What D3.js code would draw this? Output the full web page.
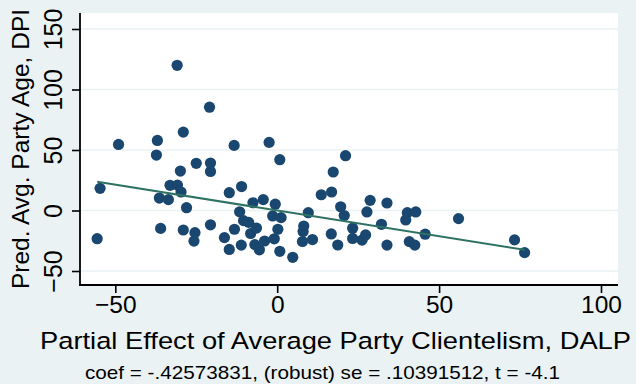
<!DOCTYPE html>
<html>
<head>
<meta charset="utf-8">
<script src="https://cdn.jsdelivr.net/npm/d3@7"></script>
<style>
  body { margin: 0; background: #eaf2f3; }
  text { font-family: "Liberation Sans", Arial, sans-serif; fill: #000; }
</style>
</head>
<body>
<script>
let width = 636;
let height = 384;

// residual scatter (added-variable plot)
var xVals = [-49, -37, -37.3, -30.9, -29, -20.9, -25, -20.6, -20.6, -29.9,
  -13.3, -2.5, 0.8, 21.1, -54.7, -55.6, -33.1, -30.8, -29.7, -36.4,
  -33.6, -28, -14.8, -11, -36, -29, -25.4, -25.7, -20.6, -16.3,
  -13.2, -14.8, -11.1, -7.5, -4.3, -0.6, -11.6, -10.4, -8.8, -8.2,
  -6.4, -6.9, -5.5, -3.9, -0.9, 0.2, 0.8, 4.8, -1.4, 1.2,
  9.6, 17.3, 13.6, 16.8, 19.6, 20.7, 28.7, 27.7, 33.9, 8.2,
  8, 7.8, 10.9, 16.7, 18.7, 23.3, 23.3, 26.2, 27.3, 32.2,
  33.9, 40.2, 42.8, 39.7, 45.7, 40.8, 42.5, 56, 73.3, 76.4];
var yVals = [54.6, 57.9, 45.8, 120, 64.8, 85.4, 39, 39.2, 32.3, 32.6,
  53.8, 56.3, 42, 45.3, 18.3, -23.3, 20.8, 21, 15.3, 10.3,
  9, 2.3, 14.7, 19.8, -14.8, -16.1, -18.3, -25.3, -11.8, -22.4,
  -15.5, -32.2, -28.6, 6.4, 9, 5.2, -1.1, -8.4, -9.8, -19,
  -14.5, -28.2, -32.5, -25.2, -23.4, -15.5, -33.7, -38.7, -4.5, -5.9,
  -1.8, 31.8, 13, 15.3, 3.1, -4.2, 8.4, -1.2, 6.2, -12.8,
  -17.3, -25.6, -24, -19.4, -28.5, -14.6, -23.1, -24.5, -20.2, -11.4,
  -28.6, -1.8, -1.2, -7.8, -19.6, -25.7, -28.6, -6.7, -24.3, -34.8];

var xTicks = [-50, 0, 50, 100];
var yTicks = [-50, 0, 50, 100, 150];

var coef = -0.42573831;
var xTitle = 'Partial Effect of Average Party Clientelism, DALP';
var yTitle = 'Pred. Avg. Party Age, DPI';
var noteText = 'coef = -.42573831, (robust) se = .10391512, t = -4.1';

var plotLeft = 80, plotRight = 618, plotTop = 13, plotBottom = 285;

var svg = d3.select('body')
            .append('svg')
            .attr('width', width)
            .attr('height', height);

svg.append('rect').attr('width', width).attr('height', height).attr('fill', '#eaf2f3');
svg.append('rect').attr('x', plotLeft).attr('y', plotTop)
   .attr('width', plotRight - plotLeft).attr('height', plotBottom - plotTop)
   .attr('fill', '#ffffff');

var x = d3.scaleLinear().domain([-50, 100]).range([115.3, 601]);
var y = d3.scaleLinear().domain([-50, 150]).range([271, 29]);

// grid lines
svg.selectAll('.grid').data(yTicks).enter().append('line')
   .attr('x1', plotLeft).attr('x2', plotRight)
   .attr('y1', d => y(d)).attr('y2', d => y(d))
   .attr('stroke', '#eaf2f3').attr('stroke-width', 1.5);

// points
var pts = d3.zip(xVals, yVals);
svg.selectAll('.pt').data(pts).enter().append('circle')
   .attr('cx', d => x(d[0])).attr('cy', d => y(d[1])).attr('r', 5.6)
   .attr('fill', '#1a476f');

// fitted line
var xExt = d3.extent(xVals);
svg.append('line')
   .attr('x1', x(xExt[0])).attr('y1', y(coef * xExt[0]))
   .attr('x2', x(xExt[1])).attr('y2', y(coef * xExt[1]))
   .attr('stroke', '#2e7263').attr('stroke-width', 2);

// axes
var yAxis = d3.axisLeft(y).tickValues(yTicks).tickSize(8).tickPadding(10);
var gy = svg.append('g').attr('transform', 'translate(' + plotLeft + ',0)').call(yAxis);
gy.select('.domain').remove();
gy.selectAll('.tick line').attr('stroke', '#000').attr('stroke-width', 1.6);
gy.selectAll('.tick text')
  .attr('font-size', 25).attr('font-family', '"Liberation Sans", Arial, sans-serif')
  .attr('fill', '#000')
  .attr('x', null).attr('dy', null)
  .attr('text-anchor', 'middle')
  .attr('transform', 'translate(-18,0) rotate(-90)');

var xAxis = d3.axisBottom(x).tickValues(xTicks).tickSize(8).tickPadding(6);
var gx = svg.append('g').attr('transform', 'translate(0,' + plotBottom + ')').call(xAxis);
gx.select('.domain').remove();
gx.selectAll('.tick line').attr('stroke', '#000').attr('stroke-width', 1.6);
gx.selectAll('.tick text')
  .attr('font-size', 24.5).attr('font-family', '"Liberation Sans", Arial, sans-serif')
  .attr('fill', '#000')
  .attr('y', 28).attr('dy', null);

svg.append('line').attr('x1', plotLeft).attr('x2', plotLeft)
   .attr('y1', plotTop).attr('y2', plotBottom + 1)
   .attr('stroke', '#000').attr('stroke-width', 1.8);
svg.append('line').attr('x1', plotLeft - 1).attr('x2', plotRight)
   .attr('y1', plotBottom).attr('y2', plotBottom)
   .attr('stroke', '#000').attr('stroke-width', 1.8);

// titles
svg.append('text')
   .attr('transform', 'translate(29,' + ((plotTop + plotBottom) / 2) + ') rotate(-90)')
   .attr('text-anchor', 'middle').attr('font-size', 24.5).text(yTitle);

svg.append('text')
   .attr('x', 40).attr('y', 349)
   .attr('font-size', 24.5)
   .attr('textLength', 591).attr('lengthAdjust', 'spacingAndGlyphs')
   .text(xTitle);

svg.append('text')
   .attr('x', 85).attr('y', 379)
   .attr('font-size', 18.5)
   .attr('textLength', 475).attr('lengthAdjust', 'spacingAndGlyphs')
   .text(noteText);
</script>
</body>
</html>
